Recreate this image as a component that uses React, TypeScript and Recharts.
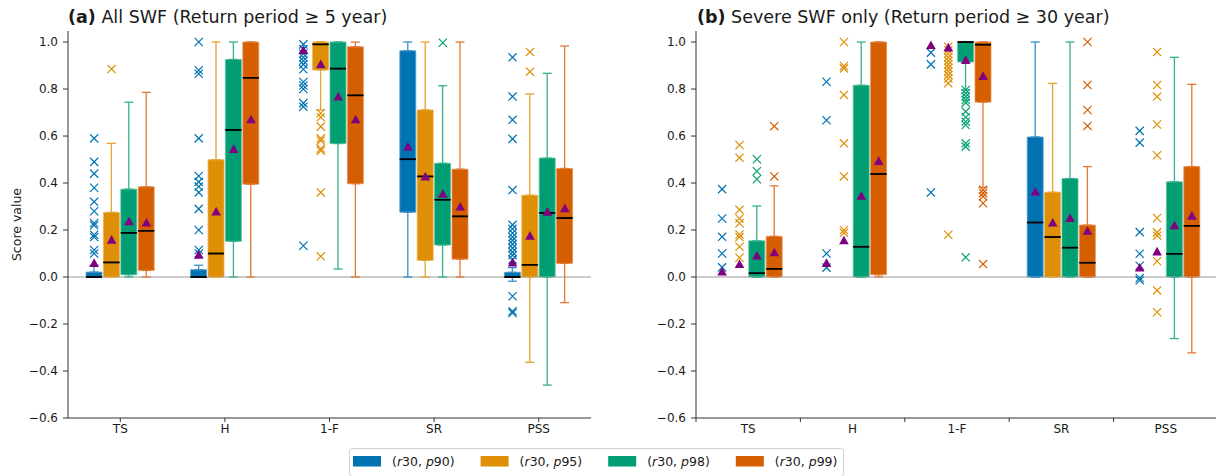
import React from 'react';
import { ComposedChart, Bar, ErrorBar, Scatter, XAxis, YAxis, ReferenceLine } from 'recharts';

const metrics = ['TS', 'H', '1-F', 'SR', 'PSS'];
const seriesNames = ['p90', 'p95', 'p98', 'p99'];
const boxColors = ['#0173b2', '#de8f05', '#029e73', '#d55e00'];
const whiskerColors = ['#3a8ec6', '#e6a22e', '#36b088', '#df7a35'];
const edgeColors = ['#5aa2d0', '#eab45a', '#5cc1a0', '#e6955e'];
const meanColor = '#800080';
const yTicks = [-0.6, -0.4, -0.2, 0, 0.2, 0.4, 0.6, 0.8, 1.0];

// rows: p90, p95, p98, p99 ; columns: TS, H, 1-F, SR, PSS

// (a) All SWF
const aLow = [
  [0, 0, 1.0, 0, -0.018],
  [0, 0, 0.711, 0, -0.363],
  [0, 0, 0.034, 0, -0.46],
  [0, 0, 0, 0, -0.109],
];
const aQ1 = [
  [0, 0, 1.0, 0.276, 0],
  [0, 0, 0.881, 0.071, 0],
  [0.01, 0.152, 0.568, 0.136, 0],
  [0.028, 0.395, 0.397, 0.076, 0.058],
];
const aMed = [
  [0, 0, 1.0, 0.501, 0],
  [0.062, 0.1, 0.99, 0.428, 0.052],
  [0.188, 0.626, 0.887, 0.329, 0.273],
  [0.197, 0.848, 0.773, 0.258, 0.251],
];
const aQ3 = [
  [0.021, 0.031, 1.0, 0.963, 0.02],
  [0.275, 0.499, 1.0, 0.711, 0.348],
  [0.374, 0.926, 1.0, 0.484, 0.506],
  [0.384, 1.0, 0.98, 0.459, 0.462],
];
const aHigh = [
  [0.05, 0.05, 1.0, 1.0, 0.04],
  [0.569, 1.0, 1.0, 1.0, 0.779],
  [0.744, 1.0, 1.0, 0.814, 0.867],
  [0.786, 1.0, 1.0, 1.0, 0.983],
];
const aMean = [
  [0.06, 0.095, 0.966, 0.555, 0.062],
  [0.159, 0.279, 0.906, 0.428, 0.176],
  [0.237, 0.545, 0.768, 0.354, 0.278],
  [0.232, 0.671, 0.671, 0.3, 0.293],
];
const aOut = [
  [
    [0.59, 0.49, 0.44, 0.38, 0.32, 0.28, 0.23, 0.22, 0.18, 0.17, 0.115, 0.1],
    [1.0, 0.88, 0.865, 0.59, 0.43, 0.405, 0.385, 0.36, 0.29, 0.2, 0.115, 0.1],
    [0.99, 0.97, 0.95, 0.935, 0.92, 0.905, 0.884, 0.83, 0.815, 0.8, 0.74, 0.725, 0.133],
    [],
    [0.935, 0.768, 0.669, 0.588, 0.37, 0.222, 0.205, 0.187, 0.17, 0.156, 0.14, 0.123, 0.106, 0.093, 0.074, -0.082, -0.146, -0.153],
  ],
  [[0.885], [], [0.697, 0.68, 0.64, 0.59, 0.58, 0.547, 0.538, 0.36, 0.088], [], [0.958, 0.874]],
  [[], [], [], [0.997], []],
  [[], [], [], [], []],
];

// (b) Severe SWF only
const bLow = [
  [0, 0, 1.0, 0, 0],
  [0, 0, 1.0, 0, 0],
  [0, 0, 0.796, 0, -0.262],
  [0, 0, 0.381, 0, -0.323],
];
const bQ1 = [
  [0, 0, 1.0, 0, 0],
  [0, 0, 1.0, 0, 0],
  [0, 0, 0.915, 0, 0],
  [0, 0.01, 0.744, 0, 0],
];
const bMed = [
  [0, 0, 1.0, 0.232, 0],
  [0, 0, 1.0, 0.17, 0],
  [0.016, 0.129, 1.0, 0.125, 0.099],
  [0.035, 0.438, 0.989, 0.061, 0.218],
];
const bQ3 = [
  [0, 0, 1.0, 0.596, 0],
  [0, 0, 1.0, 0.361, 0],
  [0.154, 0.816, 1.0, 0.419, 0.405],
  [0.173, 1.0, 1.0, 0.221, 0.47],
];
const bHigh = [
  [0, 0, 1.0, 1.0, 0],
  [0, 0, 1.0, 0.824, 0],
  [0.302, 1.0, 1.0, 1.0, 0.935],
  [0.388, 1.0, 1.0, 0.47, 0.82],
];
const bMean = [
  [0.023, 0.06, 0.987, 0.364, 0.04],
  [0.055, 0.156, 0.977, 0.232, 0.109],
  [0.092, 0.346, 0.924, 0.251, 0.22],
  [0.105, 0.494, 0.856, 0.197, 0.261],
];
const bOut = [
  [
    [0.374, 0.249, 0.171, 0.1, 0.041],
    [0.831, 0.667, 0.1, 0.04],
    [0.955, 0.905, 0.36],
    [],
    [0.622, 0.572, 0.191, 0.099, 0.048, -0.004, -0.014],
  ],
  [
    [0.562, 0.508, 0.286, 0.249, 0.229, 0.181, 0.17, 0.129, 0.082],
    [1.0, 0.898, 0.888, 0.775, 0.569, 0.428, 0.2, 0.188],
    [0.98, 0.965, 0.95, 0.935, 0.92, 0.905, 0.89, 0.875, 0.86, 0.845, 0.825, 0.18],
    [],
    [0.958, 0.817, 0.768, 0.649, 0.518, 0.251, 0.19, 0.176, 0.067, -0.057, -0.15],
  ],
  [
    [0.501, 0.45, 0.416],
    [],
    [0.796, 0.782, 0.768, 0.754, 0.742, 0.704, 0.68, 0.661, 0.647, 0.569, 0.555, 0.084],
    [],
    [],
  ],
  [[0.642, 0.428], [], [0.371, 0.357, 0.343, 0.314, 0.055], [1.0, 0.817, 0.711, 0.643], []],
];

// box offsets inside a category (matplotlib-like positions)
const slot = [-0.25, -1 / 12, 1 / 12, 0.25];
const FONT = 'DejaVu Sans';
const TEXT = '#1a1a1a';
const SPINE = '#333333';

type Stats = {
  low: number[][];
  q1: number[][];
  med: number[][];
  q3: number[][];
  high: number[][];
  mean: number[][];
  out: number[][][];
};

const statsA: Stats = { low: aLow, q1: aQ1, med: aMed, q3: aQ3, high: aHigh, mean: aMean, out: aOut };
const statsB: Stats = { low: bLow, q1: bQ1, med: bMed, q3: bQ3, high: bHigh, mean: bMean, out: bOut };

function boxRows(s: Stats) {
  return metrics.map((m, i) => {
    const row: any = { metric: m };
    seriesNames.forEach((_, k) => {
      const q1 = s.q1[k][i];
      const q3 = s.q3[k][i];
      row[`box${k}`] = [q1, q3];
      // error bars are anchored at the box top (q3)
      row[`up${k}`] = [0, s.high[k][i] - q3];
      row[`lo${k}`] = [q3 - s.low[k][i], q1 - q3];
      row[`md${k}`] = [q3 - s.med[k][i], s.med[k][i] - q3];
    });
    return row;
  });
}

const pointsOf = (vals: number[][], k: number) =>
  metrics.map((_, i) => ({ x: i + 1 + slot[k], y: vals[k][i] }));

const outliersOf = (s: Stats, k: number) =>
  metrics.flatMap((_, i) => s.out[k][i].map((v) => ({ x: i + 1 + slot[k], y: v })));

const pick = (key: string) => (d: any) =>
  d && d.payload && d.payload[key] !== undefined ? d.payload[key] : d[key];

const crossShape = (color: string) => (p: any) => {
  const { cx, cy } = p;
  const r = 4.1;
  return (
    <path
      d={`M${cx - r},${cy - r}L${cx + r},${cy + r}M${cx - r},${cy + r}L${cx + r},${cy - r}`}
      stroke={color}
      strokeWidth={1.2}
      fill="none"
    />
  );
};

const triShape = (p: any) => {
  const { cx, cy } = p;
  return <path d={`M${cx},${cy - 4.6}L${cx + 4.8},${cy + 4}L${cx - 4.8},${cy + 4}Z`} fill={meanColor} />;
};

const fmtY = (v: number) => (v < 0 ? '\u2212' + Math.abs(v).toFixed(1) : v.toFixed(1));

const CatTick = (props: any) => {
  const { x, y, payload, index, boundary, half } = props;
  return (
    <g>
      {boundary ? (
        <>
          <line x1={x - half} x2={x - half} y1={y - 6} y2={y - 2} stroke={SPINE} />
          {index === metrics.length - 1 && <line x1={x + half} x2={x + half} y1={y - 6} y2={y - 2} stroke={SPINE} />}
        </>
      ) : (
        <line x1={x} x2={x} y1={y - 6} y2={y - 2} stroke={SPINE} />
      )}
      <text x={x} y={y} dy="0.71em" textAnchor="middle" fontSize={12} fontFamily={FONT} fill={TEXT}>
        {payload.value}
      </text>
    </g>
  );
};

type PanelProps = { stats: Stats; width: number; yAxisWidth: number; rightMargin: number; boundary: boolean };

function Panel({ stats, width, yAxisWidth, rightMargin, boundary }: PanelProps) {
  const rows = boxRows(stats);
  const half = (width - yAxisWidth - rightMargin) / metrics.length / 2;
  const yDomain: [number, number] = [-0.6, 1.047];
  return (
    <ComposedChart
      width={width}
      height={476}
      data={rows}
      margin={{ top: 31, right: rightMargin, bottom: 28, left: 0 }}
      barSize={16}
      barGap={1.4}
    >
      <XAxis
        xAxisId="cat"
        dataKey="metric"
        interval={0}
        height={30}
        tickSize={4}
        tickMargin={2}
        tickLine={false}
        axisLine={{ stroke: SPINE }}
        tick={<CatTick boundary={boundary} half={half} />}
      />
      <XAxis xAxisId="num" dataKey="x" type="number" domain={[0.5, 5.5]} allowDataOverflow hide />
      <XAxis
        xAxisId="top"
        orientation="top"
        type="number"
        domain={[0.5, 5.5]}
        allowDataOverflow
        height={0}
        tick={false}
        tickLine={false}
        axisLine={{ stroke: SPINE }}
      />
      <YAxis
        yAxisId="y"
        type="number"
        domain={yDomain}
        allowDataOverflow
        ticks={yTicks}
        interval={0}
        width={yAxisWidth}
        tickSize={5}
        tickMargin={5}
        tickFormatter={fmtY}
        tick={{ fontSize: 12, fill: TEXT, fontFamily: FONT }}
        tickLine={{ stroke: SPINE }}
        axisLine={{ stroke: SPINE }}
      />
      <YAxis
        yAxisId="r"
        orientation="right"
        type="number"
        domain={yDomain}
        allowDataOverflow
        width={0}
        tick={false}
        tickLine={false}
        axisLine={{ stroke: SPINE }}
      />
      <ReferenceLine xAxisId="num" yAxisId="y" y={0} stroke="#9a9a9a" strokeWidth={1.2} />
      {seriesNames.map((name, k) => (
        <Bar
          key={name}
          name={name}
          xAxisId="cat"
          yAxisId="y"
          dataKey={`box${k}`}
          fill={boxColors[k]}
          stroke={edgeColors[k]}
          strokeWidth={0.8}
          isAnimationActive={false}
        >
          <ErrorBar dataKey={pick(`lo${k}`)} direction="y" width={4.5} stroke={whiskerColors[k]} strokeWidth={1.3} isAnimationActive={false} />
          <ErrorBar dataKey={pick(`up${k}`)} direction="y" width={4.5} stroke={whiskerColors[k]} strokeWidth={1.3} isAnimationActive={false} />
          <ErrorBar dataKey={pick(`md${k}`)} direction="y" width={8} stroke="#000000" strokeWidth={1.5} isAnimationActive={false} />
        </Bar>
      ))}
      {seriesNames.map((name, k) => (
        <Scatter
          key={`out-${name}`}
          xAxisId="num"
          yAxisId="y"
          dataKey="y"
          data={outliersOf(stats, k)}
          shape={crossShape(boxColors[k])}
          isAnimationActive={false}
        />
      ))}
      {seriesNames.map((name, k) => (
        <Scatter
          key={`mean-${name}`}
          xAxisId="num"
          yAxisId="y"
          dataKey="y"
          data={pointsOf(stats.mean, k)}
          shape={triShape}
          isAnimationActive={false}
        />
      ))}
    </ComposedChart>
  );
}

const LegendLabel = ({ pct }: { pct: string }) => (
  <>
    <tspan>(</tspan>
    <tspan fontStyle="italic">r</tspan>
    <tspan>30, </tspan>
    <tspan fontStyle="italic">p</tspan>
    <tspan>{pct})</tspan>
  </>
);

export default function App() {
  return (
    <div
      style={{
        position: 'fixed',
        left: 0,
        top: 0,
        width: 1216,
        height: 476,
        overflow: 'hidden',
        background: '#ffffff',
        fontFamily: FONT,
      }}
    >
      <div style={{ position: 'absolute', left: 0, top: 0 }}>
        <Panel stats={statsA} width={600} yAxisWidth={68} rightMargin={9} boundary={false} />
      </div>
      <div style={{ position: 'absolute', left: 629, top: 0 }}>
        <Panel stats={statsB} width={589} yAxisWidth={67} rightMargin={0} boundary />
      </div>
      <svg
        width={1216}
        height={476}
        style={{ position: 'absolute', left: 0, top: 0, pointerEvents: 'none' }}
        fontFamily={FONT}
      >
        <text x={68} y={23} fontSize={17.5} fill={TEXT}>
          <tspan fontWeight="bold">(a)</tspan>
          {' All SWF (Return period \u2265 5 year)'}
        </text>
        <text x={697} y={23} fontSize={17.5} fill={TEXT}>
          <tspan fontWeight="bold">(b)</tspan>
          {' Severe SWF only (Return period \u2265 30 year)'}
        </text>
        <text transform="translate(21,224.5) rotate(-90)" textAnchor="middle" fontSize={12.5} fill={TEXT}>
          Score value
        </text>
        <rect x={349.5} y={448.5} width={494} height={28} rx={3} fill="#ffffff" stroke="#d0d0d0" />
        {seriesNames.map((name, k) => (
          <g key={name}>
            <rect x={353 + k * 127.6} y={456} width={28} height={10.5} fill={boxColors[k]} />
            <text x={392 + k * 127.6} y={465.5} fontSize={12.5} fill={TEXT}>
              <LegendLabel pct={name.slice(1)} />
            </text>
          </g>
        ))}
      </svg>
    </div>
  );
}
